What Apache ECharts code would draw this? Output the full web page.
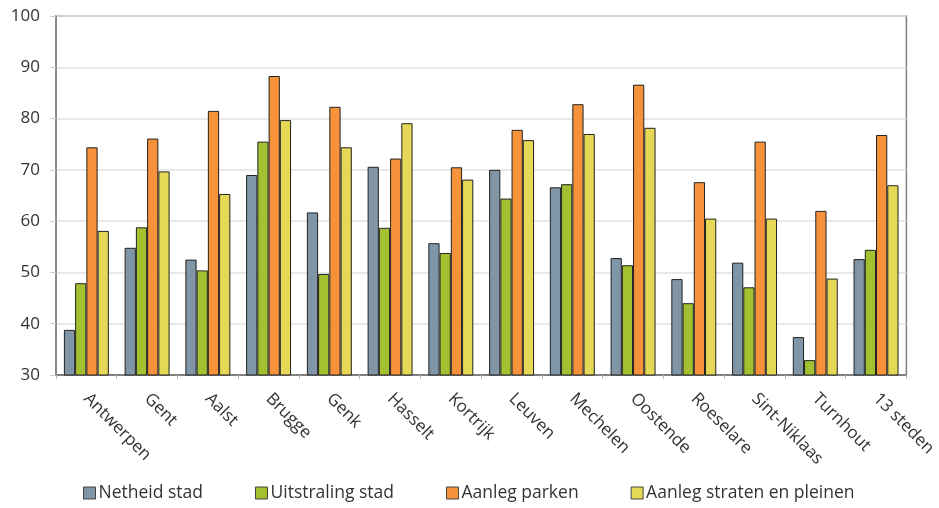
<!DOCTYPE html>
<html><head><meta charset="utf-8">
<script src="https://cdn.jsdelivr.net/npm/echarts@6/dist/echarts.min.js"></script>
<style>html,body{margin:0;padding:0;background:#fff}#c{width:939px;height:508px}</style>
</head><body><div id="c"></div>
<script>
const categories = ['Antwerpen','Gent','Aalst','Brugge','Genk','Hasselt','Kortrijk','Leuven','Mechelen','Oostende','Roeselare','Sint-Niklaas','Turnhout','13 steden'];
const netheidStad = [38.8,54.8,52.5,69.0,61.7,70.6,55.7,70.0,66.6,52.8,48.7,51.9,37.4,52.6];
const uitstralingStad = [47.9,58.8,50.4,75.5,49.7,58.7,53.8,64.4,67.2,51.4,44.0,47.1,32.9,54.4];
const aanlegParken = [74.4,76.1,81.5,88.3,82.3,72.2,70.5,77.8,82.8,86.6,67.6,75.5,62.0,76.8];
const aanlegStraten = [58.1,69.7,65.3,79.7,74.4,79.1,68.1,75.8,77.0,78.2,60.5,60.5,48.8,67.0];
const seriesNames = ['Netheid stad','Uitstraling stad','Aanleg parken','Aanleg straten en pleinen'];
const colors = ['#8096a6','#a3c030','#f5923a','#e6d857'];
const font = 'Open Sans';
const chart = echarts.init(document.getElementById('c'));
const mk = (name, data, i) => ({
  name, type:'bar', data, barGap:'0%', barCategoryGap:'26%',
  itemStyle:{color:colors[i], borderColor:'#222', borderWidth:1}
});
chart.setOption({
  animation:false,
  textStyle:{fontFamily:font},
  grid:{left:56, right:25, top:16, height:359, show:true, borderColor:'#808080', borderWidth:1.5},
  legend:{bottom:1, left:78, itemGap:52, itemWidth:12, itemHeight:12, icon:'rect',
    textStyle:{fontFamily:font, fontSize:17.5, color:'#333', padding:[0,0,0,-2]},
    data:seriesNames.map((n,i)=>({name:n, itemStyle:{color:colors[i], borderColor:'#444', borderWidth:1}}))},
  xAxis:{type:'category', data:categories,
    axisLine:{lineStyle:{color:'#666', width:1.5}},
    axisTick:{show:true, length:4, lineStyle:{color:'#bbb'}},
    axisLabel:{rotate:-45, fontFamily:font, fontSize:17, color:'#333', margin:21, interval:0}},
  yAxis:{type:'value', min:30, max:100, interval:10,
    axisLine:{show:true, lineStyle:{color:'#808080', width:1.5}},
    axisTick:{show:true, length:6, lineStyle:{color:'#ccc'}},
    axisLabel:{fontFamily:font, fontSize:17, color:'#333', margin:16},
    splitLine:{lineStyle:{color:'#e2e2e2', width:1.5}}},
  series:[mk(seriesNames[0],netheidStad,0), mk(seriesNames[1],uitstralingStad,1), mk(seriesNames[2],aanlegParken,2), mk(seriesNames[3],aanlegStraten,3)]
});
</script></body></html>
